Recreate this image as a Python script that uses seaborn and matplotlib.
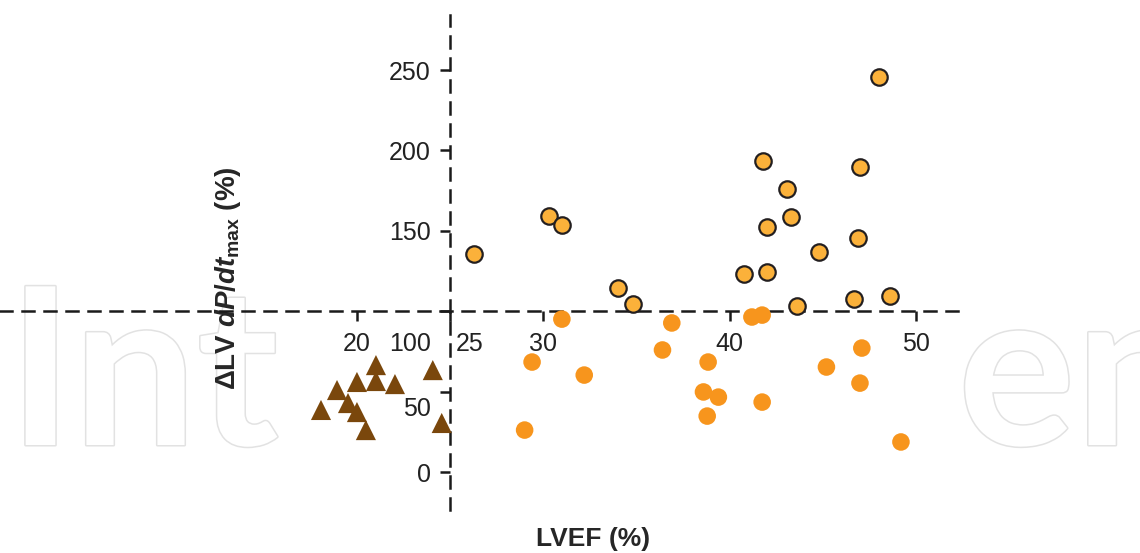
import matplotlib
matplotlib.use("Agg")
import matplotlib.pyplot as plt
import matplotlib.transforms as mtransforms
import matplotlib.patheffects as pe
import seaborn as sns

# responders above the 100 % line (outlined circles)
resp_lvef = [26.3, 30.3, 31.0, 34.0, 34.8, 40.8, 42.0, 42.0, 41.8, 43.1,
             43.3, 43.6, 44.8, 46.7, 46.9, 47.0, 48.0, 48.6]
resp_dpdt = [135.6, 159.2, 153.6, 114.4, 104.5, 123.1, 124.4, 152.4, 193.4, 176.0,
             158.6, 103.2, 136.8, 107.6, 145.5, 189.7, 245.6, 109.5]

# non-responders with LVEF > 25 %
nonresp_lvef = [31.0, 29.4, 32.2, 29.0, 36.9, 36.4, 38.85, 38.6, 39.4, 38.8,
                41.2, 41.75, 41.75, 45.2, 47.1, 47.0, 49.2]
nonresp_dpdt = [95.1, 68.4, 60.3, 26.1, 92.7, 75.9, 68.4, 49.8, 46.6, 34.8,
                96.4, 97.6, 43.5, 65.3, 77.1, 55.3, 18.7]

# LVEF < 25 % group (triangles)
low_lvef = [18.07, 18.93, 19.52, 20.0, 20.0, 20.48, 21.02, 21.02, 22.04, 24.07, 24.55]
low_dpdt = [38.6, 51.0, 42.9, 56.0, 37.3, 26.1, 66.5, 56.6, 54.7, 63.4, 30.5]

x_ticks = [20, 25, 30, 40, 50]
y_ticks = [0, 50, 100, 150, 200, 250]

sns.set_style("white")
plt.rcParams['font.family'] = ['Liberation Sans', 'DejaVu Sans']
plt.rcParams['mathtext.fontset'] = 'custom'
plt.rcParams['mathtext.rm'] = 'Liberation Sans:bold'
plt.rcParams['mathtext.it'] = 'Liberation Sans:italic:bold'

fig = plt.figure(figsize=(11.4, 5.53), dpi=100)
fig.patch.set_facecolor('white')

# faint publisher watermark, only its ends show around the chart
wm = dict(fontsize=158, family='Lato', fontweight='bold', color='white',
          va='baseline', ha='left', zorder=-5,
          path_effects=[pe.withStroke(linewidth=2.2, foreground='#e2e2e2')])
fig.text(8 / 1140, (553 - 445) / 553, "Int", **wm)
fig.text(958 / 1140, (553 - 445) / 553, "en", **wm)

ax = fig.add_axes([0, 43 / 553, 960 / 1140, 495 / 553])
ax.set_facecolor('none')

sns.scatterplot(x=low_lvef, y=low_dpdt, marker='^', s=210, color='#7a470c',
                edgecolor='none', ax=ax, zorder=3)
sns.scatterplot(x=nonresp_lvef, y=nonresp_dpdt, marker='o', s=160, color='#f7951d',
                edgecolor='none', ax=ax, zorder=3)
sns.scatterplot(x=resp_lvef, y=resp_dpdt, marker='o', s=140, color='#fbb13a',
                edgecolor='#231f20', linewidth=1.6, ax=ax, zorder=4)

ax.set_xlim(0.84, 52.37)
ax.set_ylim(-23.6, 284.2)

for side in ['top', 'right']:
    ax.spines[side].set_visible(False)
ax.spines['bottom'].set_position(('data', 100))
ax.spines['left'].set_position(('data', 25))
for side in ['bottom', 'left']:
    ax.spines[side].set_linestyle((0, (4.8, 4.0)))
    ax.spines[side].set_linewidth(1.8)
    ax.spines[side].set_color('#1a1a1a')

ax.set_xticks(x_ticks)
ax.set_yticks(y_ticks)
ax.tick_params(axis='both', direction='out', length=7, width=1.8, color='#1a1a1a',
               labelsize=18, labelcolor='#222222', pad=7)
ax.tick_params(axis='x', bottom=True, pad=8)
ax.tick_params(axis='y', left=True)

# nudge a few labels the way the original figure places them
for lab in ax.get_xticklabels():
    if lab.get_text() == '25':
        lab.set_transform(lab.get_transform() +
                          mtransforms.ScaledTranslation(20 / 100, 0, fig.dpi_scale_trans))
for lab in ax.get_yticklabels():
    if lab.get_text() == '100':
        lab.set_transform(lab.get_transform() +
                          mtransforms.ScaledTranslation(0, -30 / 100, fig.dpi_scale_trans))
    if lab.get_text() == '50':
        lab.set_transform(lab.get_transform() +
                          mtransforms.ScaledTranslation(0, -15 / 100, fig.dpi_scale_trans))

ax.set_xlabel("LVEF (%)", fontsize=19, fontweight='bold')
ax.xaxis.set_label_coords(593 / 960, (510 - 527) / 495)
ax.set_ylabel(r"ΔLV $\it{dP/dt}_{\rm{max}}$ (%)", fontsize=20, fontweight='bold')
ax.yaxis.set_label_coords(243 / 960, (510 - 278) / 495)

fig.savefig("out.png", dpi=100)
